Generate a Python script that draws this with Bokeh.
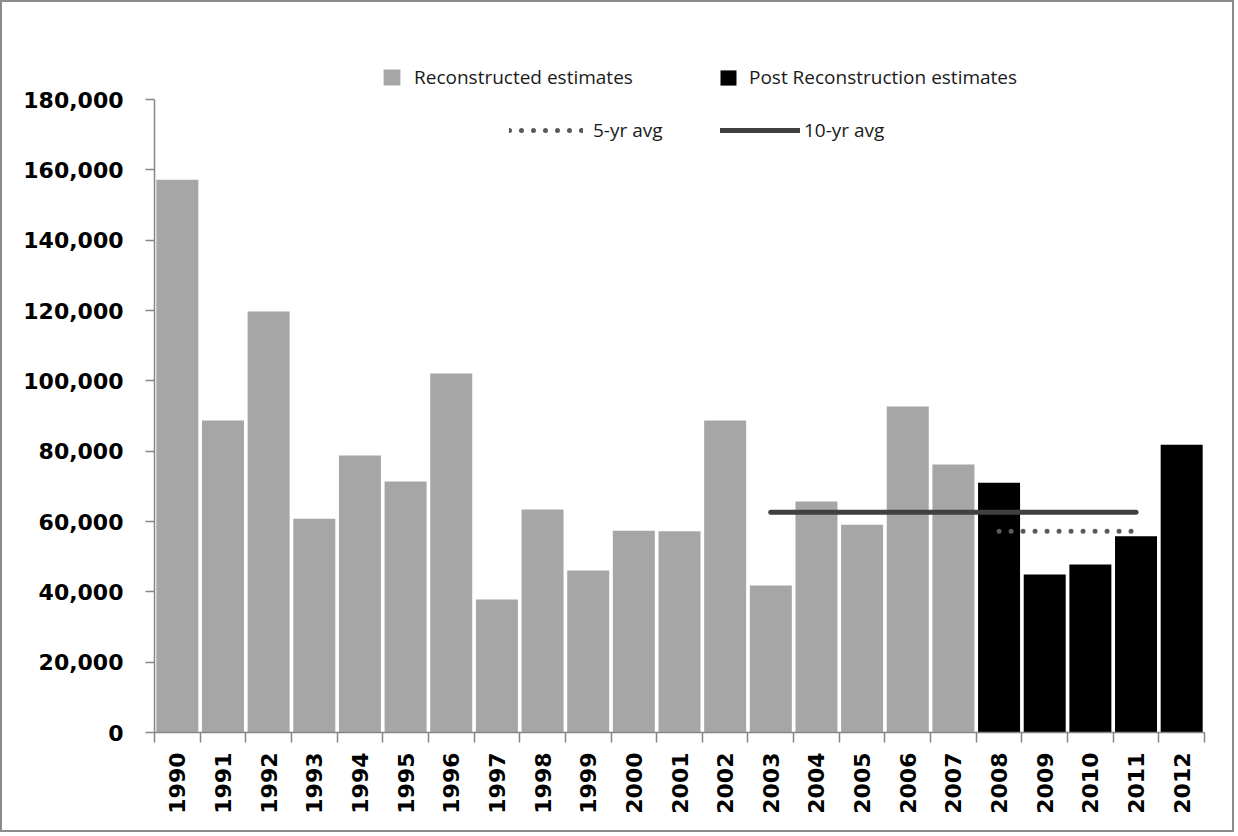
import math

from bokeh.embed import file_html
from bokeh.models import (ColumnDataSource, FixedTicker, Legend, LegendItem,
                          NumeralTickFormatter, Range1d, SingleIntervalTicker)
from bokeh.plotting import figure
from bokeh.resources import INLINE

# Annual estimates
years = [1990, 1991, 1992, 1993, 1994, 1995, 1996, 1997, 1998, 1999, 2000, 2001,
         2002, 2003, 2004, 2005, 2006, 2007, 2008, 2009, 2010, 2011, 2012]
estimates = [157200, 88700, 119700, 60800, 78800, 71400, 102100, 37800, 63400,
             46100, 57400, 57200, 88700, 41800, 65700, 59100, 92700, 76200,
             71000, 44900, 47800, 55800, 81800]
first_post_year = 2008

# Averages and the year spans they are drawn across
avg_10yr = 62600
avg_10yr_span = [2003, 2011]
avg_5yr = 57200
avg_5yr_span = [2008, 2011]

y_max = 180000
y_step = 20000

AXIS_FONT = "DejaVu Sans"
LEGEND_FONT = "Open Sans"
GREY = "#a6a6a6"
AXIS_GREY = "#868686"

# Frame geometry: the value axis is 633 px tall; the frame reaches higher so
# the key above the axis top is drawn inside it.
AXIS_PX = 633
FRAME_PX = 676
TOP_BORDER = 832 - 102 - FRAME_PX


def xpos(year):
    return years.index(year) + 0.5


recon = [(xpos(y), v) for y, v in zip(years, estimates) if y < first_post_year]
post = [(xpos(y), v) for y, v in zip(years, estimates) if y >= first_post_year]
recon_src = ColumnDataSource(dict(x=[a for a, _ in recon], top=[b for _, b in recon]))
post_src = ColumnDataSource(dict(x=[a for a, _ in post], top=[b for _, b in post]))

p = figure(width=1234, height=832,
           x_range=Range1d(0, len(years)),
           y_range=Range1d(0, y_max * FRAME_PX / AXIS_PX),
           output_backend="svg", toolbar_location=None,
           min_border_left=152, min_border_right=32,
           min_border_top=TOP_BORDER, min_border_bottom=102)
p.styles = {"border": "2px solid #8c8c8c"}
p.background_fill_color = "white"
p.border_fill_color = "white"
p.outline_line_color = None
p.xgrid.visible = False
p.ygrid.visible = False

r_recon = p.vbar(x="x", top="top", width=0.92, source=recon_src,
                 fill_color=GREY, line_color=None)
r_post = p.vbar(x="x", top="top", width=0.92, source=post_src,
                fill_color="black", line_color=None)

r_10 = p.line(x=[xpos(avg_10yr_span[0]), xpos(avg_10yr_span[1])],
              y=[avg_10yr, avg_10yr], line_color="#404040", line_width=5,
              line_cap="round")
r_5 = p.line(x=[xpos(avg_5yr_span[0]), xpos(avg_5yr_span[1])],
             y=[avg_5yr, avg_5yr], line_color="#5a5a5a", line_width=5,
             line_cap="round", line_dash="0 12")

# y axis, drawn only up to the top tick
ya = p.yaxis[0]
ya.bounds = (0, y_max)
ya.ticker = SingleIntervalTicker(interval=y_step)
ya.formatter = NumeralTickFormatter(format="0,0")
ya.major_label_text_font = AXIS_FONT
ya.major_label_text_font_style = "bold"
ya.major_label_text_font_size = "22px"
ya.major_label_text_color = "black"
ya.major_label_standoff = 22
ya.major_tick_out = 9
ya.major_tick_in = 0
ya.minor_tick_out = 0
ya.minor_tick_in = 0
ya.axis_line_color = AXIS_GREY
ya.axis_line_width = 1.5
ya.major_tick_line_color = AXIS_GREY
ya.major_tick_line_width = 1.5

# x axis: labels at bar centres, tick marks between bars
xa = p.xaxis[0]
centers = [i + 0.5 for i in range(len(years))]
bounds = [float(i) for i in range(len(years) + 1)]
xa.ticker = FixedTicker(ticks=centers, minor_ticks=bounds)
xa.major_label_overrides = {c: str(y) for c, y in zip(centers, years)}
xa.major_label_orientation = math.pi / 2
xa.major_label_text_font = AXIS_FONT
xa.major_label_text_font_style = "bold"
xa.major_label_text_font_size = "22px"
xa.major_label_text_color = "black"
xa.major_label_standoff = 10
xa.major_tick_out = 0
xa.major_tick_in = 0
xa.minor_tick_out = 10
xa.minor_tick_in = 0
xa.minor_tick_line_color = AXIS_GREY
xa.minor_tick_line_width = 1.5
xa.axis_line_color = AXIS_GREY
xa.axis_line_width = 1.5


def add_key(renderer, label, loc, gw, gh, standoff):
    leg = Legend(items=[LegendItem(label=label, renderers=[renderer])],
                 location=loc, orientation="horizontal",
                 glyph_width=gw, glyph_height=gh, label_standoff=standoff,
                 label_height=gh, label_width=10,
                 label_text_font=LEGEND_FONT, label_text_font_size="19px",
                 label_text_color="#1a1a1a",
                 padding=0, margin=0, spacing=0,
                 border_line_color=None, background_fill_alpha=0)
    p.add_layout(leg)


add_key(r_recon, "Reconstructed estimates", (227, 642), 21, 20, 12)
add_key(r_post, "Post Reconstruction estimates", (564, 642), 20, 19, 11)
add_key(r_5, "5-yr avg", (355, 589), 74, 10, 10)
add_key(r_10, "10-yr avg", (566, 589), 80, 10, 4)

open("out.html", "w").write(file_html(p, INLINE))
